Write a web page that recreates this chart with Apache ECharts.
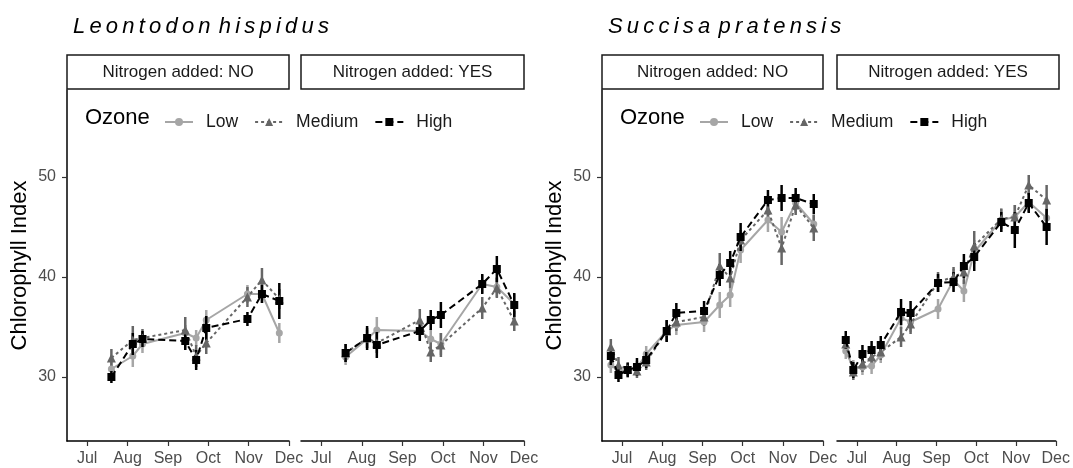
<!DOCTYPE html>
<html>
<head>
<meta charset="utf-8">
<script src="https://cdn.jsdelivr.net/npm/echarts@6/dist/echarts.min.js"></script>
<style>
  html, body { margin: 0; padding: 0; background: #fff; }
  #chart { width: 1073px; height: 468px; }
</style>
</head>
<body>
<div id="chart"></div>
<script>
// axis labels
const monthLabels = ['Jul', 'Aug', 'Sep', 'Oct', 'Nov', 'Dec']
const monthTicks = [0, 1, 2, 3, 4, 5] // months after 1 Jul
const yTicks = [30, 40, 50]
const ozoneLevels = ['Low', 'Medium', 'High']
const stripLabels = ['Nitrogen added: NO', 'Nitrogen added: YES']
const speciesNames = ['Leontodon hispidus', 'Succisa pratensis']

// sampling dates (months after 1 Jul)
const leonDates = [0.6, 1.13, 1.37, 2.43, 2.7, 2.95, 3.97, 4.33, 4.76]
const succDates = [-0.28, -0.09, 0.14, 0.37, 0.6, 1.11, 1.35, 2.04, 2.43, 2.69, 2.95, 3.63, 3.97, 4.32, 4.77]

// Leontodon hispidus, nitrogen NO
const leonNoLow = [30.8, 32.1, 33.3, 34.4, 33.9, 35.7, 38.3, 38.3, 34.4]
const leonNoMed = [31.9, 33.7, 33.9, 34.7, 32.1, 33.4, 38.0, 39.7, 37.8]
const leonNoHigh = [30.0, 33.3, 33.8, 33.6, 31.7, 34.9, 35.8, 38.3, 37.6]
const leonNoLowErr = [0.7, 1.1, 0.9, 0.8, 0.8, 1.0, 0.9, 0.9, 1.0]
const leonNoMedErr = [0.9, 1.4, 0.9, 1.3, 1.1, 1.1, 1.0, 1.2, 1.0]
const leonNoHighErr = [0.6, 1.1, 0.8, 0.9, 1.0, 1.2, 0.7, 0.9, 1.8]

// Leontodon hispidus, nitrogen YES
const leonYesLow = [32.0, 33.8, 34.7, 34.6, 33.8, 33.3, 39.3, 39.0, 37.3]
const leonYesMed = [32.4, 33.9, 33.4, 35.7, 32.5, 33.2, 36.9, 38.9, 35.6]
const leonYesHigh = [32.4, 33.9, 33.2, 34.6, 35.7, 36.2, 39.3, 40.8, 37.2]
const leonYesLowErr = [0.8, 0.9, 1.3, 0.9, 1.0, 1.1, 0.9, 1.0, 1.0]
const leonYesMedErr = [0.9, 1.0, 1.0, 1.1, 1.0, 1.2, 1.1, 1.0, 1.0]
const leonYesHighErr = [0.9, 1.2, 1.3, 1.0, 1.0, 1.3, 1.0, 1.3, 1.2]

// Succisa pratensis, nitrogen NO
const succNoLow = [31.2, 30.6, 30.6, 30.9, 32.3, 34.6, 35.2, 35.5, 37.2, 38.2, 42.7, 45.7, 44.5, 47.4, 45.3]
const succNoMed = [33.0, 31.2, 30.8, 30.6, 31.5, 34.6, 35.5, 36.0, 41.1, 39.9, 43.7, 46.7, 42.9, 47.2, 44.9]
const succNoHigh = [32.1, 30.2, 30.7, 31.0, 31.7, 34.6, 36.4, 36.6, 40.2, 41.4, 44.0, 47.7, 47.9, 47.9, 47.3]
const succNoLowErr = [0.8, 0.8, 0.7, 0.7, 0.8, 1.0, 1.0, 1.0, 1.3, 1.2, 1.3, 1.2, 1.5, 1.0, 1.0]
const succNoMedErr = [0.8, 0.8, 0.7, 0.7, 0.8, 1.1, 0.9, 0.9, 1.3, 1.0, 1.0, 1.0, 1.7, 1.0, 1.3]
const succNoHighErr = [0.9, 0.7, 0.7, 0.9, 0.8, 1.1, 1.0, 1.0, 1.1, 1.2, 1.4, 1.0, 1.3, 1.0, 1.0]

// Succisa pratensis, nitrogen YES
const succYesLow = [32.6, 30.9, 31.0, 31.1, 32.2, 35.9, 35.5, 36.8, 39.7, 38.6, 42.5, 45.7, 46.0, 47.5, 45.9]
const succYesMed = [33.3, 30.5, 31.3, 32.0, 32.5, 34.0, 35.3, 39.5, 40.0, 40.5, 43.1, 45.8, 46.0, 49.2, 47.7]
const succYesHigh = [33.7, 30.7, 32.3, 32.7, 33.2, 36.5, 36.4, 39.4, 39.5, 41.1, 42.0, 45.5, 44.7, 47.4, 45.0]
const succYesLowErr = [0.8, 0.8, 0.8, 0.8, 0.8, 1.1, 1.0, 1.0, 1.1, 1.1, 1.2, 1.2, 1.2, 1.0, 1.0]
const succYesMedErr = [0.8, 0.8, 0.8, 0.8, 0.8, 1.0, 1.0, 1.0, 1.0, 1.2, 1.5, 1.0, 1.2, 1.0, 1.5]
const succYesHighErr = [0.9, 0.8, 0.9, 0.9, 0.9, 1.3, 1.2, 0.9, 1.0, 1.2, 1.4, 1.0, 1.8, 1.0, 1.8]

const fontFamily = '"Liberation Sans", Arial, sans-serif'

// 四个面板
const panels = [
  { dates: leonDates, vals: [leonNoLow, leonNoMed, leonNoHigh], errs: [leonNoLowErr, leonNoMedErr, leonNoHighErr] },
  { dates: leonDates, vals: [leonYesLow, leonYesMed, leonYesHigh], errs: [leonYesLowErr, leonYesMedErr, leonYesHighErr] },
  { dates: succDates, vals: [succNoLow, succNoMed, succNoHigh], errs: [succNoLowErr, succNoMedErr, succNoHighErr] },
  { dates: succDates, vals: [succYesLow, succYesMed, succYesHigh], errs: [succYesLowErr, succYesMedErr, succYesHighErr] },
]

const grids = [
  { left: 67, top: 90, width: 222, height: 351 },
  { left: 301, top: 90, width: 223, height: 351 },
  { left: 602, top: 90, width: 221, height: 351 },
  { left: 837, top: 90, width: 222, height: 351 },
]

// ozone level styles
const levelStyle = [
  { color: '#a6a6a6', symbol: 'circle', size: 7, dash: 'solid' },
  { color: '#666666', symbol: 'triangle', size: 9, dash: [3, 3] },
  { color: '#000000', symbol: 'rect', size: 8, dash: [7, 4] },
]

const xAxes = grids.map((g, i) => ({
  type: 'value',
  gridIndex: i,
  min: -0.5,
  max: 5,
  axisLine: { show: true, onZero: false, lineStyle: { color: '#000', width: 1.5 } },
  axisTick: { show: true, length: 5, customValues: monthTicks, lineStyle: { color: '#333', width: 1.2 } },
  axisLabel: {
    customValues: monthTicks,
    formatter: (v) => monthLabels[monthTicks.indexOf(v)],
    color: '#4d4d4d',
    fontSize: 16,
    fontFamily: fontFamily,
    margin: 10,
  },
  splitLine: { show: false },
}))

const yAxes = grids.map((g, i) => {
  const first = i % 2 === 0
  return {
    type: 'value',
    gridIndex: i,
    min: 23.6,
    max: 58.7,
    name: first ? 'Chlorophyll Index' : '',
    nameLocation: 'middle',
    nameGap: 36,
    nameTextStyle: { fontSize: 22, color: '#000', fontFamily: fontFamily },
    axisLine: { show: first, onZero: false, lineStyle: { color: '#000', width: 1.5 } },
    axisTick: { show: first, length: 5, customValues: yTicks, lineStyle: { color: '#333', width: 1.2 } },
    axisLabel: {
      show: first,
      customValues: yTicks,
      color: '#4d4d4d',
      fontSize: 16,
      fontFamily: fontFamily,
      margin: 11,
    },
    splitLine: { show: false },
  }
})

// 误差线
const renderErrorBar = (params, api) => {
  const top = api.coord([api.value(0), api.value(2)])
  const bottom = api.coord([api.value(0), api.value(1)])
  return {
    type: 'line',
    shape: { x1: top[0], y1: top[1], x2: bottom[0], y2: bottom[1] },
    style: { stroke: api.visual('color'), lineWidth: 2.5 },
  }
}

const lineSeries = []
const errorSeries = []
panels.forEach((p, i) => {
  ozoneLevels.forEach((level, j) => {
    const st = levelStyle[j]
    lineSeries.push({
      name: level,
      type: 'line',
      xAxisIndex: i,
      yAxisIndex: i,
      data: p.dates.map((d, k) => [d, p.vals[j][k]]),
      symbol: st.symbol,
      symbolSize: st.size,
      showSymbol: true,
      lineStyle: { color: st.color, width: 2, type: st.dash },
      itemStyle: { color: st.color },
      z: 3 + j,
      animation: false,
    })
    errorSeries.push({
      name: level + ' error',
      type: 'custom',
      xAxisIndex: i,
      yAxisIndex: i,
      renderItem: renderErrorBar,
      itemStyle: { color: st.color },
      encode: { x: 0, y: [1, 2] },
      data: p.dates.map((d, k) => [d, p.vals[j][k] - p.errs[j][k], p.vals[j][k] + p.errs[j][k]]),
      z: 2 + j,
      animation: false,
    })
  })
})

const graphics = []

// species titles, letter-spaced italic text (one glyph per element)
const titleFont = 'italic 22px ' + fontFamily
const measureCtx = document.createElement('canvas').getContext('2d')
measureCtx.font = titleFont
const letterSpacing = 4.2
speciesNames.forEach((name, s) => {
  let x = grids[s * 2].left + 6
  for (const ch of name) {
    if (ch === ' ') {
      x += measureCtx.measureText(ch).width * 0.5 + 1
      continue
    }
    graphics.push({
      type: 'text',
      x: x,
      y: 27,
      silent: true,
      style: { text: ch, font: titleFont, fill: '#000', verticalAlign: 'middle' },
    })
    x += measureCtx.measureText(ch).width + letterSpacing
  }
  // legend title
  graphics.push({
    type: 'text',
    x: grids[s * 2].left + 18,
    y: 118,
    style: { text: 'Ozone', fill: '#000', font: '22px ' + fontFamily, verticalAlign: 'middle' },
  })
})

// facet strips
grids.forEach((g, i) => {
  graphics.push({
    type: 'group',
    x: g.left,
    y: 55,
    children: [
      {
        type: 'rect',
        shape: { x: 0, y: 0, width: g.width, height: 34 },
        style: { fill: '#fff', stroke: '#1a1a1a', lineWidth: 1.5 },
      },
      {
        type: 'text',
        x: g.width / 2,
        y: 17.5,
        style: {
          text: stripLabels[i % 2],
          font: '17px ' + fontFamily,
          fill: '#1a1a1a',
          align: 'center',
          verticalAlign: 'middle',
        },
      },
    ],
  })
})

const legends = [0, 2].map((gi) => ({
  data: ozoneLevels,
  left: grids[gi].left + 92,
  top: 108,
  itemWidth: 28,
  itemHeight: 10,
  itemGap: 16,
  selectedMode: false,
  textStyle: { fontSize: 17.5, color: '#1a1a1a', fontFamily: fontFamily, padding: [0, 0, 0, 8] },
}))

const chart = echarts.init(document.getElementById('chart'))
chart.setOption({
  backgroundColor: '#fff',
  animation: false,
  grid: grids,
  xAxis: xAxes,
  yAxis: yAxes,
  legend: legends,
  graphic: graphics,
  series: [...lineSeries, ...errorSeries],
})
</script>
</body>
</html>
